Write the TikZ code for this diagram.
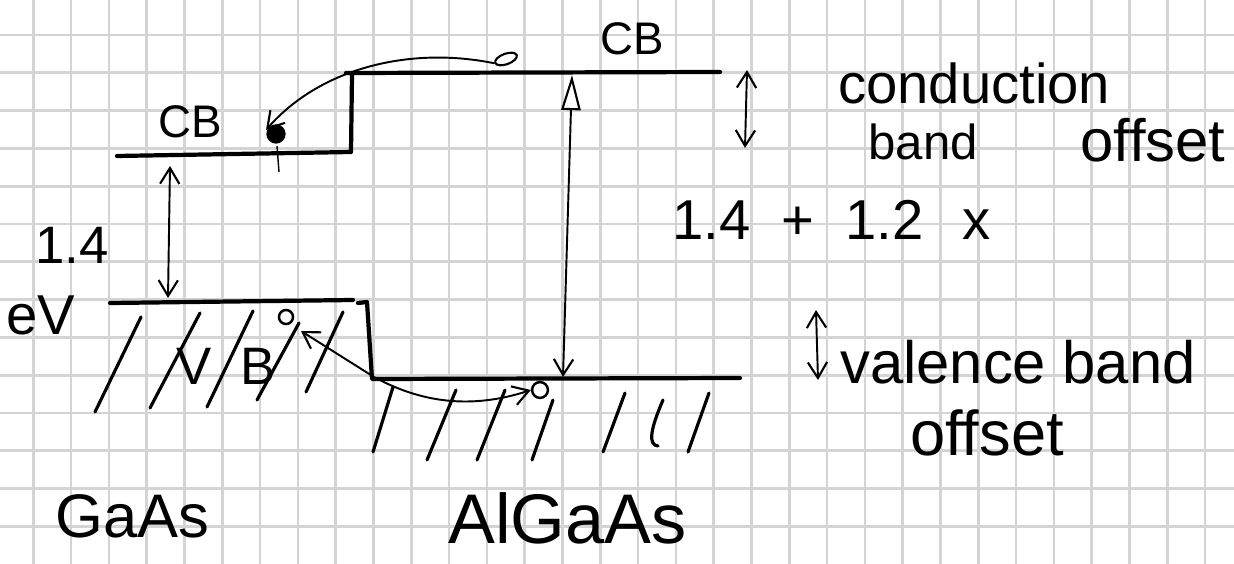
\documentclass[tikz,border=0pt]{standalone}
\usepackage{fontspec}
\setmainfont{Liberation Sans}
\usetikzlibrary{arrows.meta,shapes.geometric}
\definecolor{gridgray}{HTML}{D4D4D4}
\tikzset{
  gridline/.style={draw=gridgray, line width=1.5pt},
  bandline/.style={line width=2.4pt, line cap=round, line join=round},
  hatchline/.style={line width=1.8pt, line cap=round},
  barb/.tip={Straight Barb[length=9pt,width=11pt,line width=1.2pt]},
  dblarrow/.style={line width=1.1pt, barb-barb},
  onearrow/.style={line width=1.1pt, -barb},
  lbl/.style={inner sep=0pt, anchor=base west},
}
\begin{document}
\begin{tikzpicture}[x=0.02cm, y=-0.02cm]
\useasboundingbox (0,0) rectangle (1234,564);
% graph paper
\foreach \i in {0,...,31} \draw[gridline] ({33.3+37.8*\i},0) -- ({33.3+37.8*\i},564);
\foreach \j in {0,...,14} \draw[gridline] (0,{-2.8+37.8*\j}) -- (1234,{-2.8+37.8*\j});

% band edge coordinates
\coordinate (cbL0) at (117,156);
\coordinate (cbL1) at (351,152);
\coordinate (cbR0) at (346,73);
\coordinate (cbR1) at (720,72);
\coordinate (vbL0) at (110,303);
\coordinate (vbL1) at (353,300);
\coordinate (vbR0) at (372,379);
\coordinate (vbR1) at (740,378);

% conduction band
\draw[bandline] (cbL0) -- (cbL1) -- (352,75);
\draw[bandline] (cbR0) -- (cbR1);
% valence band
\draw[bandline] (vbL0) -- (vbL1);
\draw[bandline] (358,303) -- (367,302) -- (vbR0) -- (vbR1);

% hatching GaAs
\draw[hatchline] (141,317) -- (95,412);
\draw[hatchline] (200,313) -- (150,408);
\draw[hatchline] (253,311) -- (207,407);
\draw[hatchline] (299,323) -- (257,400);
\draw[hatchline] (343,312) -- (306,392);
% hatching AlGaAs
\draw[hatchline] (393,387) -- (373,452);
\draw[hatchline] (456,390) -- (427,460);
\draw[hatchline] (505,390) -- (477,460);
\draw[hatchline] (553,400) -- (532,460);
\draw[hatchline] (625,393) -- (603,452);
\draw[hatchline] (663,400) .. controls (650,430) and (648,445) .. (658,446);
\draw[hatchline] (709,393) -- (688,452);

% band gap arrows
\coordinate (gA1) at (170,166);
\coordinate (gA2) at (168,298);
\draw[dblarrow] (gA1) -- (gA2);
\coordinate (gB1) at (572,75);
\coordinate (gB2) at (563,377);
\draw[line width=1.1pt, {Triangle[open,length=20pt,width=11pt,line width=1.2pt]}-barb] (gB1) -- (gB2);
% offset arrows
\coordinate (cbo1) at (747,70);
\coordinate (cbo2) at (745,148);
\draw[dblarrow] (cbo1) -- (cbo2);
\coordinate (vbo1) at (816,310);
\coordinate (vbo2) at (818,380);
\draw[dblarrow] (vbo1) -- (vbo2);

% electron transfer (conduction band)
\node[draw, line width=1.2pt, ellipse, minimum width=13pt, minimum height=6pt, inner sep=0pt, rotate=20] (e0) at (506,59) {};
\node[circle, fill=black, minimum size=11pt, inner sep=0pt] (e1) at (276,134) {};
\draw[line width=0.8pt] (e1.south) ++(1,2) -- (279,172);
\draw[onearrow] (e0.west) .. controls (410,46) and (320,68) .. (266,130);

% hole transfer (valence band)
\node[draw, circle, line width=1.4pt, minimum size=8pt, inner sep=0pt] (h1) at (286,317) {};
\node[draw, circle, line width=1.4pt, minimum size=9pt, inner sep=0pt] (h2) at (540,390) {};
\coordinate (hs) at (374,377);
\draw[onearrow] (hs) -- (301,331);
\draw[onearrow] (hs) .. controls (420,402) and (470,410) .. (h2.west);

% labels
\node[lbl, font=\fontsize{26}{30}\selectfont] (cbtop) at (600,55) {CB};
\node[lbl, font=\fontsize{26}{30}\selectfont] (cbleft) at (158,138) {CB};
\node[lbl, font=\fontsize{30}{34}\selectfont] (gap1) at (35,264) {1.4};
\node[lbl, font=\fontsize{32}{34}\selectfont] (gap2) at (6,335) {eV};
\node[lbl, font=\fontsize{30}{34}\selectfont] (vb) at (176,384) {V\hspace{0.55em}B};
\node[lbl, font=\fontsize{32}{36}\selectfont] (cond) at (838,104) {conduction};
\node[lbl, font=\fontsize{28}{32}\selectfont] (band1) at (868,160) {band};
\node[lbl, font=\fontsize{34}{36}\selectfont] (off1) at (1080,162) {offset};
\node[lbl, font=\fontsize{32}{36}\selectfont] (gapAl) at (672,240) {1.4\hspace{0.55em}+\hspace{0.55em}1.2\hspace{0.7em}x};
\node[lbl, font=\fontsize{34}{36}\selectfont] (val) at (840,383) {valence band};
\node[lbl, font=\fontsize{36}{40}\selectfont] (off2) at (910,455) {offset};
\node[lbl, font=\fontsize{35}{40}\selectfont] (gaas) at (55,537) {GaAs};
\node[lbl, font=\fontsize{40}{44}\selectfont] (algaas) at (448,543) {AlGaAs};
\end{tikzpicture}
\end{document}
